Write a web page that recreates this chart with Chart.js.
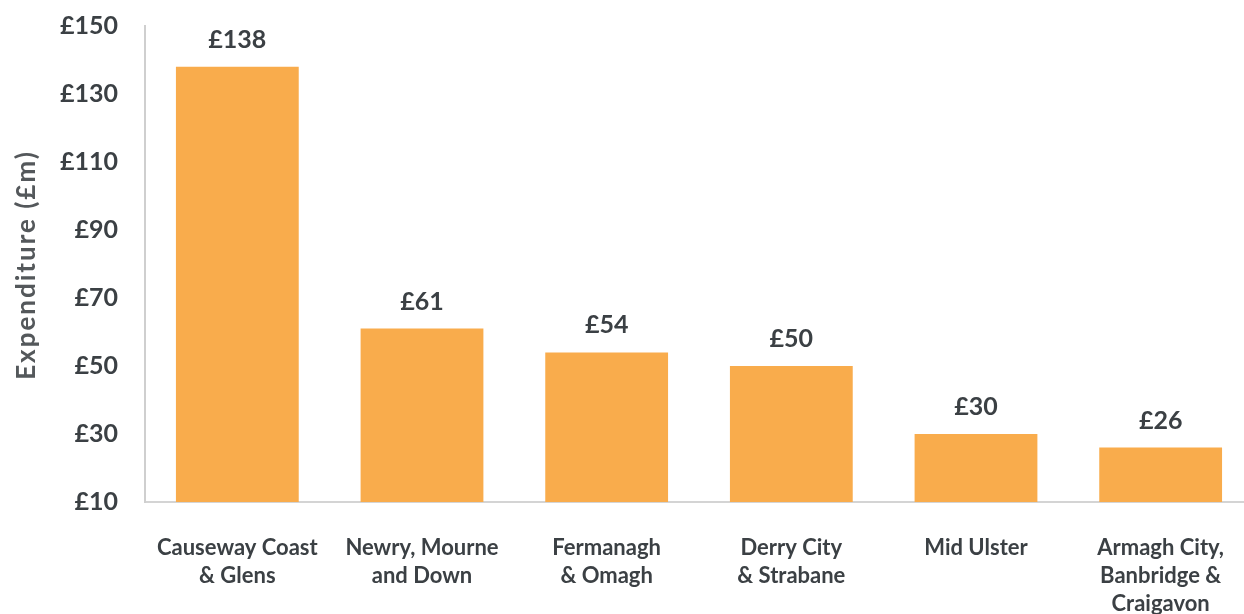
<!DOCTYPE html>
<html>
<head>
<meta charset="utf-8">
<script src="https://cdn.jsdelivr.net/npm/chart.js@4/dist/chart.umd.min.js"></script>
<style>
  html, body { margin: 0; padding: 0; background: #fff; overflow: hidden; }
  #wrap { width: 1256px; height: 614px; }
</style>
</head>
<body>
<div id="wrap"><canvas id="graph"></canvas></div>
<script>
// council areas and spend in £m
const areas = [
  ["Causeway Coast", "& Glens"],
  ["Newry, Mourne", "and Down"],
  ["Fermanagh", "& Omagh"],
  ["Derry City", "& Strabane"],
  ["Mid Ulster"],
  ["Armagh City,", "Banbridge &", "Craigavon"]
];
const spend = [138, 61, 54, 50, 30, 26];
const yTicks = [10, 30, 50, 70, 90, 110, 130, 150];
const yTitle = "Expenditure (£m)";

const textColour = "#3b4044";
const fontFamily = "Lato, 'Open Sans', sans-serif";

// draws £ value above each bar, plus the y title
const valueLabels = {
  id: "valueLabels",
  afterDatasetsDraw(chart) {
    const ctx = chart.ctx;
    const meta = chart.getDatasetMeta(0);
    ctx.save();
    ctx.font = "bold 25px " + fontFamily;
    ctx.fillStyle = textColour;
    ctx.textAlign = "center";
    ctx.textBaseline = "middle";
    meta.data.forEach((bar, i) => {
      ctx.fillText("£" + spend[i], bar.x, bar.y - 27);
    });
    ctx.restore();

    ctx.save();
    ctx.translate(27, 265);
    ctx.rotate(-Math.PI / 2);
    ctx.font = "bold 26px " + fontFamily;
    ctx.letterSpacing = "2px";
    ctx.fillStyle = "#54585b";
    ctx.textAlign = "center";
    ctx.textBaseline = "middle";
    ctx.fillText(yTitle, 0, 0);
    ctx.restore();
  }
};

new Chart(document.getElementById("graph"), {
  type: "bar",
  data: {
    labels: areas,
    datasets: [{
      data: spend,
      backgroundColor: "#f9ac4c",
      barPercentage: 0.665,
      categoryPercentage: 1
    }]
  },
  options: {
    responsive: true,
    maintainAspectRatio: false,
    animation: false,
    layout: { padding: 0 },
    plugins: {
      legend: { display: false },
      tooltip: { enabled: false }
    },
    scales: {
      x: {
        afterFit(axis) { axis.height = 112; },
        grid: { display: false, drawTicks: false },
        border: { display: true, color: "#d4d4d4", width: 2 },
        ticks: {
          color: textColour,
          font: { family: fontFamily, size: 22, weight: "bold", lineHeight: 1.27 },
          padding: 32,
          maxRotation: 0,
          autoSkip: false
        }
      },
      y: {
        min: 10,
        max: 150,
        afterBuildTicks(axis) {
          axis.ticks = yTicks.map(v => ({ value: v }));
        },
        afterFit(axis) {
          axis.width = 145;
          axis.paddingTop = 26;
          axis.paddingBottom = 0;
        },
        grid: { display: false, drawTicks: false },
        border: { display: true, color: "#cfcfcf", width: 2 },
        ticks: {
          color: textColour,
          font: { family: fontFamily, size: 25, weight: "bold" },
          padding: 27,
          callback: v => "£" + v
        }
      }
    }
  },
  plugins: [valueLabels]
});
</script>
</body>
</html>
